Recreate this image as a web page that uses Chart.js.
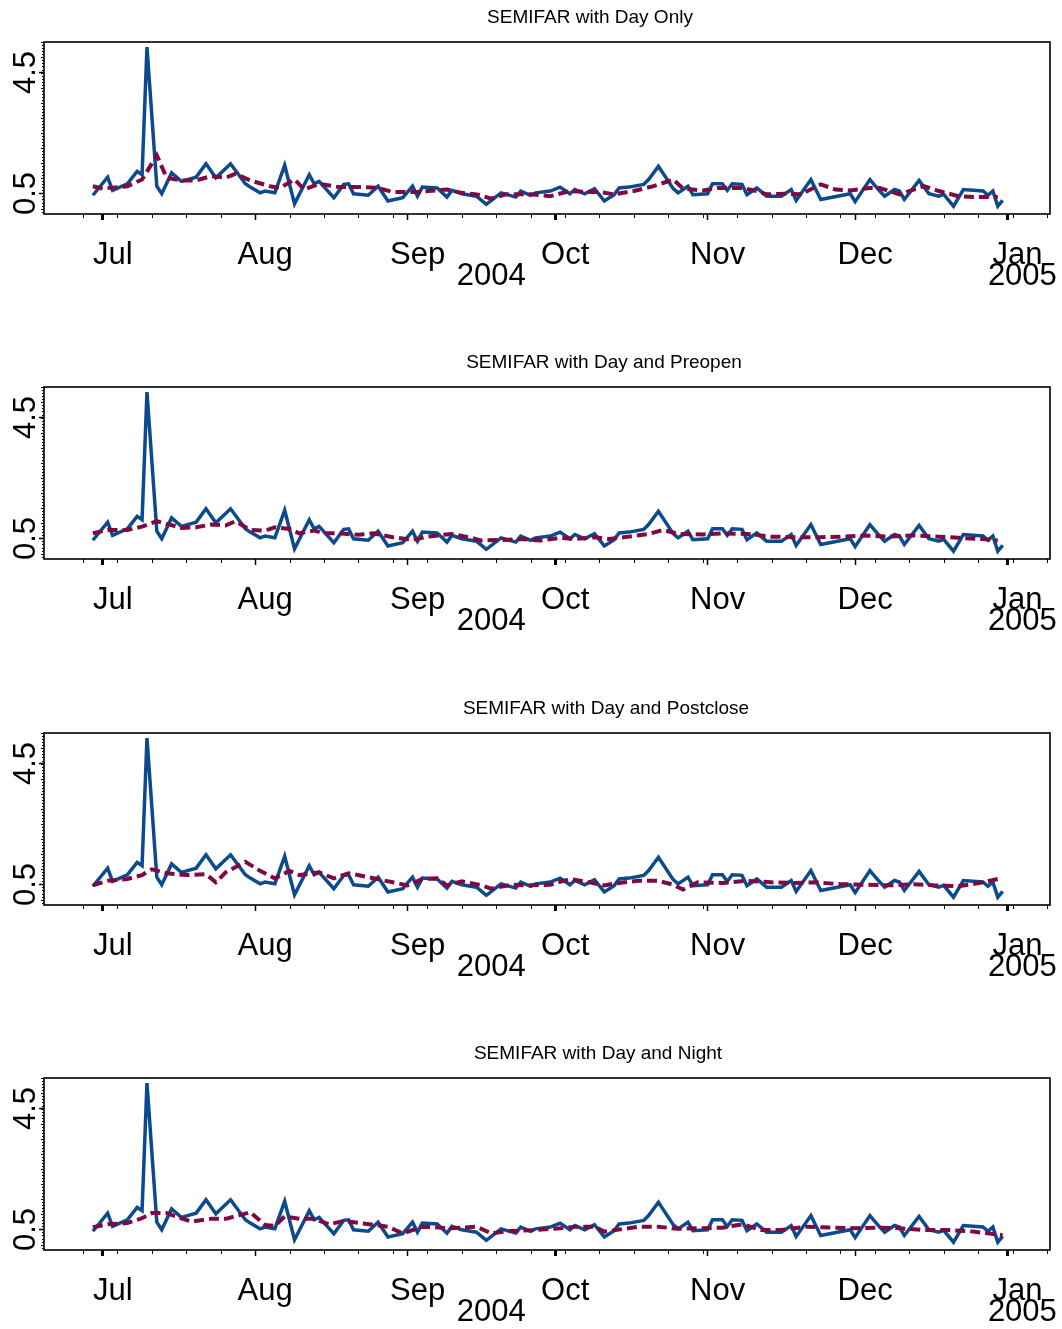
<!DOCTYPE html>
<html>
<head>
<meta charset="utf-8">
<script src="https://cdn.jsdelivr.net/npm/chart.js@4.4.1/dist/chart.umd.min.js"></script>
<style>
  html, body { margin: 0; padding: 0; background: #fff; }
  body { width: 1062px; height: 1329px; position: relative; overflow: hidden; }
  .panel { position: absolute; left: 0; width: 1062px; height: 293px; }
  canvas { display: block; }
</style>
</head>
<body>
<div class="panel" style="top:0px"><canvas id="c0" width="1062" height="293"></canvas></div>
<div class="panel" style="top:345px"><canvas id="c1" width="1062" height="293"></canvas></div>
<div class="panel" style="top:691px"><canvas id="c2" width="1062" height="293"></canvas></div>
<div class="panel" style="top:1036px"><canvas id="c3" width="1062" height="293"></canvas></div>
<script>
// ---------------- DATA (dates are 2004 unless a year is given) ----------------
const panelTitles = [
  'SEMIFAR with Day Only',
  'SEMIFAR with Day and Preopen',
  'SEMIFAR with Day and Postclose',
  'SEMIFAR with Day and Night'
];

// realized volatility (solid blue), identical in all panels
const actualDates = ['06-29','07-02','07-03','07-06','07-08','07-09','07-10','07-12','07-13','07-15','07-17','07-20','07-22','07-24','07-27','07-30','07-31',
  '08-02','08-03','08-05','08-07','08-09','08-12','08-13','08-14','08-17','08-19','08-20','08-21','08-24','08-26','08-28','08-31',
  '09-02','09-03','09-04','09-07','09-09','09-10','09-12','09-15','09-17','09-20','09-23','09-24','09-26','09-27','09-30',
  '10-02','10-04','10-05','10-07','10-09','10-11','10-13','10-14','10-16','10-19','10-20','10-22','10-25','10-26','10-28','10-29',
  '11-01','11-02','11-04','11-05','11-06','11-08','11-09','11-11','11-13','11-16','11-18','11-19','11-22','11-24','11-30',
  '12-01','12-04','12-06','12-07','12-09','12-10','12-11','12-14','12-16','12-18','12-19','12-21','12-23','12-27','12-28','12-29','12-30','12-31'];
const actualValues = [0.44,1.04,0.60,0.82,1.23,1.12,5.34,0.74,0.49,1.18,0.90,1.04,1.48,1.02,1.48,0.82,0.71,
  0.52,0.58,0.52,1.43,0.16,1.12,0.82,0.90,0.36,0.80,0.82,0.49,0.44,0.74,0.25,0.36,
  0.74,0.41,0.71,0.68,0.38,0.60,0.49,0.41,0.14,0.52,0.38,0.58,0.44,0.52,0.58,
  0.71,0.49,0.63,0.49,0.66,0.25,0.46,0.68,0.71,0.80,0.96,1.40,0.66,0.52,0.74,0.46,
  0.49,0.82,0.82,0.60,0.82,0.80,0.46,0.68,0.41,0.41,0.63,0.27,0.96,0.30,0.49,
  0.23,0.96,0.58,0.41,0.63,0.58,0.30,0.93,0.49,0.41,0.47,0.08,0.63,0.58,0.44,0.58,0.08,0.27];

// fitted values (dashed red), one per panel
const fitDayOnlyDates = ['06-29','07-01','07-06','07-09','07-12','07-14','07-17','07-20','07-23','07-26','07-28','07-31','08-04','08-06','08-09','08-11','08-14','08-18','08-20','08-23','08-26','08-29',
  '09-03','09-09','09-12','09-15','09-18','09-21','09-26','09-30','10-04','10-08','10-10','10-13','10-17','10-21','10-25','10-27','10-31',
  '11-03','11-08','11-11','11-13','11-17','11-20','11-24','11-27','11-30','12-04','12-06','12-10','12-12','12-15','12-18','12-22','12-26','12-30'];
const fitDayOnly = [0.74,0.66,0.74,0.96,1.76,1.02,0.93,0.93,1.07,1.02,1.15,0.93,0.74,0.68,0.96,0.63,0.82,0.71,0.71,0.71,0.68,0.55,
  0.55,0.63,0.52,0.47,0.33,0.47,0.47,0.41,0.58,0.55,0.55,0.47,0.58,0.74,0.96,0.66,0.60,
  0.68,0.68,0.58,0.47,0.49,0.47,0.80,0.63,0.60,0.68,0.68,0.47,0.58,0.74,0.58,0.41,0.38,0.38];

const fitPreopenDates = ['06-29','07-02','07-06','07-09','07-12','07-14','07-17','07-20','07-23','07-26','07-28','07-31','08-03','08-05','08-08','08-10','08-13','08-15','08-18','08-22','08-25','08-29',
  '09-02','09-05','09-10','09-14','09-16','09-20','09-24','09-28','10-02','10-05','10-09','10-12','10-16','10-20','10-23','10-26','10-31',
  '11-04','11-09','11-14','11-19','11-24','11-28','12-03','12-08','12-13','12-18','12-22','12-27','12-30'];
const fitPreopen = [0.67,0.78,0.78,0.89,1.07,0.98,0.85,0.87,0.96,0.93,1.07,0.78,0.76,0.87,0.81,0.67,0.76,0.67,0.67,0.62,0.67,0.54,
  0.45,0.56,0.65,0.52,0.43,0.45,0.48,0.43,0.52,0.48,0.54,0.48,0.56,0.65,0.78,0.65,0.63,
  0.67,0.65,0.56,0.54,0.54,0.56,0.60,0.56,0.60,0.56,0.52,0.48,0.43];

const fitPostcloseDates = ['06-29','07-02','07-06','07-09','07-11','07-14','07-18','07-22','07-24','07-26','07-30','08-02','08-05','08-08','08-10','08-14','08-17','08-20','08-24','08-29',
  '09-01','09-04','09-07','09-09','09-12','09-16','09-18','09-22','09-25','09-30','10-04','10-08','10-11','10-14','10-18','10-22','10-25','10-27','10-30',
  '11-04','11-09','11-14','11-18','11-23','11-28','12-03','12-08','12-13','12-17','12-22','12-27','12-30'];
const fitPostclose = [0.47,0.62,0.68,0.81,1.00,0.87,0.81,0.84,0.57,0.90,1.25,0.95,0.70,0.95,0.81,0.90,0.70,0.87,0.74,0.57,
  0.47,0.68,0.70,0.47,0.60,0.47,0.36,0.49,0.47,0.49,0.68,0.57,0.47,0.55,0.62,0.62,0.49,0.33,0.57,
  0.55,0.62,0.57,0.55,0.57,0.51,0.49,0.47,0.51,0.47,0.44,0.57,0.68];

const fitNightDates = ['06-29','07-02','07-06','07-09','07-11','07-14','07-17','07-19','07-23','07-26','07-29','07-31','08-03','08-05','08-07','08-10','08-13','08-16','08-19','08-23','08-28','08-31',
  '09-04','09-10','09-15','09-18','09-22','09-27','10-02','10-05','10-09','10-11','10-15','10-18','10-22','10-26','10-30',
  '11-04','11-08','11-12','11-16','11-21','11-26','12-01','12-06','12-10','12-15','12-20','12-25','12-28','12-31'];
const fitNight = [0.57,0.67,0.71,0.87,1.04,1.04,0.87,0.76,0.85,0.85,0.98,1.07,0.65,0.62,0.93,0.85,0.85,0.67,0.78,0.70,0.59,0.37,
  0.59,0.54,0.59,0.37,0.45,0.48,0.54,0.59,0.59,0.43,0.52,0.59,0.59,0.52,0.54,
  0.56,0.67,0.48,0.48,0.59,0.56,0.54,0.56,0.54,0.48,0.48,0.43,0.37,0.31];

const fitDatesByPanel = [fitDayOnlyDates, fitPreopenDates, fitPostcloseDates, fitNightDates];
const fitValuesByPanel = [fitDayOnly, fitPreopen, fitPostclose, fitNight];

// axis ticks and labels
const monthTickDates = ['2004-07-01','2004-08-01','2004-09-01','2004-10-01','2004-11-01','2004-12-01','2005-01-01'];
const monthLabels = ['Jul','Aug','Sep','Oct','Nov','Dec','Jan'];
const quarterTickDates = ['2004-07-01','2004-10-01','2005-01-01'];
const weekTickStart = '2004-06-27';
const yearLabels = ['2004','2005'];
const yearLabelDates = ['2004-09-18','2005-01-04'];
const yTickValues = [0.5, 4.5];
const yTickLabels = ['0.5','4.5'];

// ---------------- helpers / styles ----------------
const FONT = '"Liberation Sans", Arial, Helvetica, sans-serif';
const BASE = Date.UTC(2004, 6, 1);
function dayNum(s) {
  const p = (s.length === 5 ? '2004-' + s : s).split('-').map(Number);
  return (Date.UTC(p[0], p[1] - 1, p[2]) - BASE) / 86400000;
}
const X_MIN = -11.94, X_MAX = 192.62;
const Y_MIN = -0.18, Y_MAX = 5.51;
const titleCenters = [590, 604, 606, 598];
const BLUE = '#0b4a8c';
const RED = '#7f0a43';

const monthDays = monthTickDates.map(dayNum);
const quarterDays = quarterTickDates.map(dayNum);

const decor = {
  id: 'decor',
  afterDraw(chart, args, opts) {
    const { ctx, chartArea: a, scales: { x, y } } = chart;
    ctx.save();
    ctx.strokeStyle = '#000';
    ctx.lineWidth = 1.6;
    ctx.strokeRect(a.left, a.top, a.right - a.left, a.bottom - a.top);
    // weekly minor ticks on x, fine ticks on y
    ctx.lineWidth = 1;
    ctx.beginPath();
    for (let d = dayNum(weekTickStart); d <= x.max; d += 7) {
      const px = Math.round(x.getPixelForValue(d)) + 0.5;
      ctx.moveTo(px, a.bottom); ctx.lineTo(px, a.bottom + 4);
    }
    for (let i = -1; i <= 55; i++) {
      const v = i / 10;
      if (v < y.min || v > y.max) continue;
      const py = Math.round(y.getPixelForValue(v)) + 0.5;
      ctx.moveTo(a.left, py); ctx.lineTo(a.left - (i % 5 === 0 ? 3 : 2), py);
    }
    ctx.stroke();
    // rotated y labels
    ctx.fillStyle = '#000';
    ctx.font = '31px ' + FONT;
    ctx.textAlign = 'center';
    ctx.textBaseline = 'alphabetic';
    yTickValues.forEach((v, i) => {
      ctx.save();
      ctx.translate(35, y.getPixelForValue(v));
      ctx.rotate(-Math.PI / 2);
      ctx.fillText(yTickLabels[i], 0, 0);
      ctx.restore();
    });
    // year labels
    yearLabels.forEach((t, i) => {
      ctx.fillText(t, x.getPixelForValue(dayNum(yearLabelDates[i])), a.bottom + 71);
    });
    // title
    ctx.font = '19px ' + FONT;
    ctx.fillText(opts.title, opts.titleX, 23);
    ctx.restore();
  }
};

function makeChart(idx) {
  const actualPts = actualDates.map((d, i) => ({ x: dayNum(d), y: actualValues[i] }));
  const fitPts = fitDatesByPanel[idx].map((d, i) => ({ x: dayNum(d), y: fitValuesByPanel[idx][i] }));
  return new Chart(document.getElementById('c' + idx), {
    type: 'line',
    data: {
      datasets: [
        { label: 'fitted', data: fitPts, borderColor: RED, borderWidth: 4, borderDash: [10, 5],
          pointRadius: 0, tension: 0, fill: false, order: 0 },
        { label: 'actual', data: actualPts, borderColor: BLUE, borderWidth: 3.5,
          pointRadius: 0, tension: 0, fill: false, order: 1 }
      ]
    },
    options: {
      responsive: false,
      animation: false,
      events: [],
      parsing: false,
      layout: { padding: { top: 42, right: 12, left: 0, bottom: 0 } },
      plugins: {
        legend: { display: false },
        tooltip: { enabled: false },
        title: { display: false },
        decor: { title: panelTitles[idx], titleX: titleCenters[idx] }
      },
      scales: {
        x: {
          type: 'linear', min: X_MIN, max: X_MAX,
          afterBuildTicks: s => { s.ticks = monthDays.map(v => ({ value: v })); },
          afterFit: s => { s.height = 79; },
          ticks: {
            autoSkip: false, maxRotation: 0, minRotation: 0,
            color: '#000', font: { family: FONT, size: 31 },
            padding: 17, labelOffset: 10,
            callback: (v, i) => monthLabels[i]
          },
          grid: {
            drawOnChartArea: false, drawTicks: true, tickLength: 6,
            tickColor: '#000',
            tickWidth: c => (quarterDays.includes(c.tick && c.tick.value) ? 3 : 1.5)
          },
          border: { display: false }
        },
        y: {
          type: 'linear', min: Y_MIN, max: Y_MAX,
          afterBuildTicks: s => { s.ticks = yTickValues.map(v => ({ value: v })); },
          afterFit: s => { s.width = 44; },
          ticks: { display: false },
          grid: { drawOnChartArea: false, drawTicks: true, tickLength: 5, tickColor: '#000', tickWidth: 1.5 },
          border: { display: false }
        }
      }
    },
    plugins: [decor]
  });
}
[0, 1, 2, 3].forEach(makeChart);
</script>
</body>
</html>
